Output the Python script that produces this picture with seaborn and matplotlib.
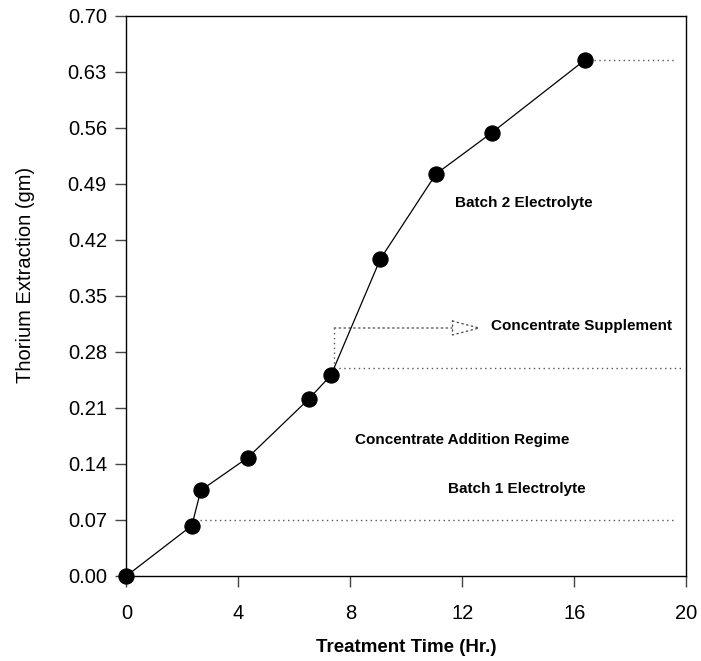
import matplotlib
matplotlib.use("Agg")
import matplotlib.pyplot as plt
import seaborn as sns
import pandas as pd

# ---- data ----
time_hr = [0, 2.34, 2.66, 4.34, 6.51, 7.31, 9.07, 11.06, 13.05, 16.38]
thorium_gm = [0, 0.063, 0.107, 0.148, 0.221, 0.251, 0.396, 0.5025, 0.554, 0.645]

x_ticks = [0, 4, 8, 12, 16, 20]
y_ticks = [0.00, 0.07, 0.14, 0.21, 0.28, 0.35, 0.42, 0.49, 0.56, 0.63, 0.70]

# reference (dotted) lines: (y, x_start, x_end)
ref_y = [0.07, 0.26, 0.645]
ref_x0 = [2.62, 7.43, 16.7]
ref_x1 = [19.65, 19.85, 19.6]

# supplement connector
supp_x = 7.43
supp_y0, supp_y1 = 0.26, 0.31
arrow_end_x = 12.69

labels = ["Batch 2 Electrolyte", "Concentrate Supplement",
          "Concentrate Addition Regime", "Batch 1 Electrolyte"]
label_x = [14.19, 13.02, 12.0, 13.95]
label_y = [0.466, 0.313, 0.17, 0.109]
label_ha = ["center", "left", "center", "center"]

sns.set_style("ticks")
plt.rcParams["font.family"] = ["Liberation Sans", "DejaVu Sans"]
plt.rcParams["text.color"] = "black"
plt.rcParams["axes.labelcolor"] = "black"
plt.rcParams["xtick.color"] = "black"
plt.rcParams["ytick.color"] = "black"

fig = plt.figure(figsize=(7.01, 6.61), dpi=100)
ax = fig.add_axes([0.1802, 0.1286, 0.7988, 0.8472])

df = pd.DataFrame({"t": time_hr, "th": thorium_gm})
sns.lineplot(data=df, x="t", y="th", ax=ax, color="black", lw=0.9,
             marker="o", markersize=11, markeredgecolor="black",
             markerfacecolor="black", zorder=5)
for ln in ax.lines:
    ln.set_clip_on(False)

for yv, x0, x1 in zip(ref_y, ref_x0, ref_x1):
    ax.plot([x0, x1], [yv, yv], ls=(0, (1, 2.5)), color="#555555", lw=1.0, zorder=2)

ax.plot([supp_x, supp_x], [supp_y0, supp_y1], ls=(0, (1, 2.5)), color="#555555", lw=1.0)
ax.annotate("", xy=(arrow_end_x, supp_y1), xytext=(supp_x, supp_y1),
            arrowprops=dict(arrowstyle="-|>,head_length=1.9,head_width=0.5",
                            ls=(0, (1, 2.5)), lw=1.0, ec="#555555", fc="white",
                            shrinkA=0, shrinkB=0))

for txt, xv, yv, ha in zip(labels, label_x, label_y, label_ha):
    ax.text(xv, yv, txt, ha=ha, va="center", fontsize=11, fontweight="bold",
            color="black")

ax.set_xlim(0, 20)
ax.set_ylim(0, 0.70)
ax.set_xticks(x_ticks)
ax.set_yticks(y_ticks)
ax.set_yticklabels([f"{v:.2f}" for v in y_ticks])
ax.tick_params(axis="both", direction="out", length=8, width=1, color="#444444",
               labelsize=14.5, pad=6, labelcolor="black")
ax.tick_params(axis="x", pad=12)

for s in ax.spines.values():
    s.set_visible(True)
    s.set_linewidth(1)
    s.set_color("black")

ax.set_xlabel("Treatment Time (Hr.)", fontsize=13.5, fontweight="bold", color="black")
ax.set_ylabel("Thorium Extraction (gm)", fontsize=14.5, color="black")
ax.yaxis.set_label_coords(-0.163, 0.5375)
ax.xaxis.set_label_coords(0.5, -0.1125)

fig.savefig("out.png", dpi=100)
